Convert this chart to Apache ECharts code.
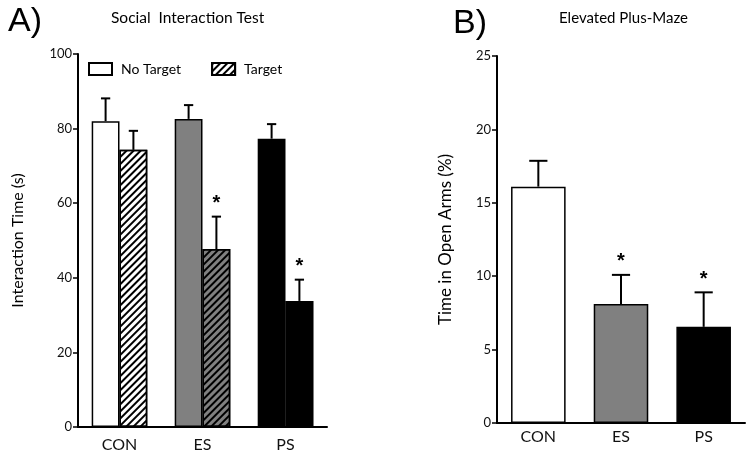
<!DOCTYPE html>
<html>
<head>
<meta charset="UTF-8">
<title>Social Interaction / Elevated Plus-Maze</title>
<script src="https://cdn.jsdelivr.net/npm/echarts@6/dist/echarts.min.js"></script>
<style>
  html, body { margin: 0; padding: 0; background: #fff; }
  #chart { width: 751px; height: 457px; }
</style>
</head>
<body>
<div id="chart"></div>
<script>
  // data
  var groups = ['CON', 'ES', 'PS'];
  var groupColors = ['#ffffff', '#808080', '#000000'];
  var socialTicks = [0, 20, 40, 60, 80, 100];
  var noTarget = [82.0, 82.6, 77.3];
  var noTargetSem = [6.1, 3.7, 3.9];
  var noTargetStar = [0, 0, 0];
  var target = [74.3, 47.7, 33.8];
  var targetSem = [5.1, 8.7, 5.7];
  var targetStar = [0, 1, 1];
  var epmTicks = [0, 5, 10, 15, 20, 25];
  var openArms = [16.1, 8.1, 6.55];
  var openArmsSem = [1.76, 1.99, 2.35];
  var openArmsStar = [0, 1, 1];

  var FONT = 'Lato';
  var hatch = {
    color: '#000',
    dashArrayX: [1, 0],
    dashArrayY: [2, 2.5],
    symbolSize: 1,
    rotation: -Math.PI / 4
  };

  function coloured(values, withHatch) {
    return values.map(function (v, i) {
      var st = { color: groupColors[i], borderColor: '#000', borderWidth: 1.5 };
      if (withHatch) st.decal = hatch;
      return { value: v, itemStyle: st };
    });
  }

  function errData(values, sem, star) {
    return values.map(function (v, i) { return [i, v, sem[i], star[i]]; });
  }

  // upper error bar + cap (+ star), placed through the axis scales
  function errRender(barFrac, shift) {
    return function (params, api) {
      var x = api.value(0), y = api.value(1), e = api.value(2), star = api.value(3);
      var a = api.coord([x, y]);
      var b = api.coord([x, y + e]);
      var bw = api.size([1, 0])[0] * barFrac;
      var cx = a[0] + shift * bw;
      var cap = bw / 3;
      var kids = [
        { type: 'line', shape: { x1: cx, y1: a[1], x2: cx, y2: b[1] }, style: { stroke: '#000', lineWidth: 2 } },
        { type: 'line', shape: { x1: cx - cap / 2, y1: b[1], x2: cx + cap / 2, y2: b[1] }, style: { stroke: '#000', lineWidth: 2 } }
      ];
      if (star) {
        kids.push({ type: 'text', style: { text: '*', x: cx, y: b[1] - 3, align: 'center', verticalAlign: 'bottom',
          font: 'bold 20px "Liberation Sans"', fill: '#000' } });
      }
      return { type: 'group', children: kids };
    };
  }

  var axisLine = { show: true, lineStyle: { color: '#000', width: 2 } };
  var tickLabel = { color: '#111', fontFamily: FONT, fontSize: 13, margin: 6 };

  var chart = echarts.init(document.getElementById('chart'));
  chart.setOption({
    animation: false,
    title: [
      { text: 'A)', left: 3, top: 0, textStyle: { fontFamily: 'Liberation Sans', fontWeight: 'normal', fontSize: 34, color: '#000' } },
      { text: 'Social  Interaction Test', left: 106, top: 5, textStyle: { fontFamily: FONT, fontWeight: 'normal', fontSize: 15.5, color: '#000' } },
      { text: 'B)', left: 448, top: 2, textStyle: { fontFamily: 'Liberation Sans', fontWeight: 'normal', fontSize: 34, color: '#000' } },
      { text: 'Elevated Plus-Maze', left: 554, top: 6, textStyle: { fontFamily: FONT, fontWeight: 'normal', fontSize: 15, color: '#000' } }
    ],
    legend: {
      left: 88, top: 62, padding: 0,
      itemWidth: 23, itemHeight: 12, itemGap: 30,
      icon: 'rect',
      data: ['No Target', 'Target'],
      textStyle: { fontFamily: FONT, fontSize: 14, color: '#000', padding: [0, 0, 0, 4] }
    },
    grid: [
      { left: 78, right: 424, top: 54, bottom: 30 },
      { left: 497, right: 6, top: 56, bottom: 34 }
    ],
    xAxis: [
      { type: 'category', gridIndex: 0, data: groups, axisLine: axisLine, axisTick: { show: false },
        axisLabel: { color: '#111', fontFamily: FONT, fontSize: 16, margin: 10 } },
      { type: 'category', gridIndex: 1, data: groups, axisLine: axisLine, axisTick: { show: false },
        axisLabel: { color: '#111', fontFamily: FONT, fontSize: 16, margin: 6 } }
    ],
    yAxis: [
      { type: 'value', gridIndex: 0, min: socialTicks[0], max: socialTicks[socialTicks.length - 1], interval: socialTicks[1] - socialTicks[0],
        axisLine: axisLine, axisTick: { show: true, length: 5, lineStyle: { color: '#000', width: 1.5 } },
        splitLine: { show: false }, axisLabel: tickLabel,
        name: 'Interaction Time (s)', nameLocation: 'middle', nameRotate: 90, nameGap: 52,
        nameTextStyle: { fontFamily: FONT, fontSize: 16, color: '#000' } },
      { type: 'value', gridIndex: 1, min: epmTicks[0], max: epmTicks[epmTicks.length - 1], interval: epmTicks[1] - epmTicks[0],
        axisLine: axisLine, axisTick: { show: true, length: 5, lineStyle: { color: '#000', width: 1.5 } },
        splitLine: { show: false }, axisLabel: tickLabel,
        name: 'Time in Open Arms (%)', nameLocation: 'middle', nameRotate: 90, nameGap: 43,
        nameTextStyle: { fontFamily: FONT, fontSize: 17, color: '#000' } }
    ],
    series: [
      { name: 'No Target', type: 'bar', xAxisIndex: 0, yAxisIndex: 0, barGap: 0, barCategoryGap: '33%',
        itemStyle: { color: '#fff', borderColor: '#000', borderWidth: 1.5 },
        data: coloured(noTarget, false) },
      { name: 'Target', type: 'bar', xAxisIndex: 0, yAxisIndex: 0, barGap: 0, barCategoryGap: '33%',
        itemStyle: { color: '#fff', borderColor: '#000', borderWidth: 1.5, decal: hatch },
        data: coloured(target, true) },
      { type: 'custom', xAxisIndex: 0, yAxisIndex: 0, z: 5, renderItem: errRender(0.335, -0.5),
        data: errData(noTarget, noTargetSem, noTargetStar) },
      { type: 'custom', xAxisIndex: 0, yAxisIndex: 0, z: 5, renderItem: errRender(0.335, 0.5),
        data: errData(target, targetSem, targetStar) },
      { name: 'Open arms', type: 'bar', xAxisIndex: 1, yAxisIndex: 1, barCategoryGap: '34%',
        data: coloured(openArms, false) },
      { type: 'custom', xAxisIndex: 1, yAxisIndex: 1, z: 5, renderItem: errRender(0.66, 0),
        data: errData(openArms, openArmsSem, openArmsStar) }
    ]
  });
</script>
</body>
</html>
